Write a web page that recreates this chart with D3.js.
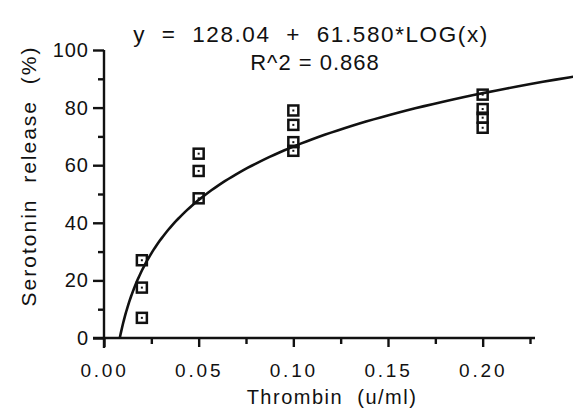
<!DOCTYPE html>
<html>
<head>
<meta charset="utf-8">
<script src="https://cdn.jsdelivr.net/npm/d3@7"></script>
<style>
    body { margin: 0; background: #fff; }
    text { font-family: "Liberation Sans", Arial, sans-serif; fill: #111; }
</style>
</head>
<body>
<script>
    // Data
    const doses = [0.02, 0.05, 0.10, 0.20];
    const releases = [
        [27, 17.5, 7],
        [64, 58, 48.5],
        [79, 74, 68, 65],
        [84.5, 79.5, 76.5, 73]
    ];
    // fit printed on the chart: y = a + b*LOG(x)
    const fitA = 128.04;
    const fitB = 61.580;
    const fitLabel = "y  =  128.04  +  61.580*LOG(x)";
    const r2Label = "R^2 = 0.868";
    const xMajor = [0, 0.05, 0.10, 0.15, 0.20];
    const xMinor = [0.025, 0.075, 0.125, 0.175, 0.225];
    const yMajor = [0, 20, 40, 60, 80, 100];
    const yMinor = [10, 30, 50, 70, 90];

    const width = 573;
    const height = 410;
    const ink = "#111";

    const svg = d3.select("body").append("svg")
        .attr("width", width)
        .attr("height", height);

    const xScale = d3.scaleLinear().domain([0, 0.225]).range([104, 530]);
    const yScale = d3.scaleLinear().domain([0, 100]).range([338, 50]);

    // x axis
    const gx = svg.append("g")
        .attr("transform", `translate(0,${yScale(0)})`)
        .call(d3.axisBottom(xScale).tickValues(xMajor).tickSize(9).tickSizeOuter(0)
            .tickFormat(d3.format(".2f")));
    gx.append("g")
        .call(d3.axisBottom(xScale).tickValues(xMinor).tickSize(6).tickSizeOuter(0)
            .tickFormat(""));
    gx.selectAll(".domain").remove();
    gx.append("line")
        .attr("x1", 93).attr("x2", 535)
        .attr("stroke", ink).attr("stroke-width", 2.4);
    gx.selectAll("line").attr("stroke", ink).attr("stroke-width", 2.4);
    gx.selectAll("text")
        .attr("y", 26)
        .attr("font-size", 19)
        .attr("letter-spacing", 2.8)
        .attr("fill", ink);

    // y axis
    const gy = svg.append("g")
        .attr("transform", `translate(${xScale(0)},0)`)
        .call(d3.axisLeft(yScale).tickValues(yMajor).tickSize(11).tickSizeOuter(0));
    gy.append("g")
        .call(d3.axisLeft(yScale).tickValues(yMinor).tickSize(6).tickSizeOuter(0)
            .tickFormat(""));
    gy.selectAll(".domain").remove();
    gy.append("line")
        .attr("y1", yScale(100)).attr("y2", yScale(0) + 10)
        .attr("stroke", ink).attr("stroke-width", 2.4);
    gy.selectAll("line").attr("stroke", ink).attr("stroke-width", 2.4);
    gy.selectAll("text")
        .attr("x", -15)
        .attr("font-size", 20)
        .attr("letter-spacing", 1)
        .attr("fill", ink);

    // fitted curve from the printed equation
    const x0 = Math.pow(10, -fitA / fitB);
    const curveX = d3.range(0, 121).map(i => x0 * Math.pow(0.26 / x0, i / 120));
    svg.append("path")
        .datum(curveX)
        .attr("fill", "none")
        .attr("stroke", ink)
        .attr("stroke-width", 2.6)
        .attr("d", d3.line()
            .x(d => xScale(d))
            .y(d => yScale(fitA + fitB * Math.log10(d)))
        );

    // markers: square with a dot
    const points = doses.flatMap((d, i) => releases[i].map(v => ({dose: d, value: v})));
    const marks = svg.append("g").selectAll("g")
        .data(points)
        .join("g")
        .attr("transform", d => `translate(${xScale(d.dose)},${yScale(d.value)})`);
    marks.append("rect")
        .attr("x", -5).attr("y", -5)
        .attr("width", 10).attr("height", 10)
        .attr("fill", "none")
        .attr("stroke", ink)
        .attr("stroke-width", 2.5);
    marks.append("rect")
        .attr("x", -1).attr("y", -1)
        .attr("width", 2).attr("height", 2)
        .attr("fill", ink);

    // texts
    svg.append("text")
        .attr("x", 311).attr("y", 42)
        .attr("text-anchor", "middle")
        .attr("font-size", 22.5)
        .attr("letter-spacing", 1.6)
        .style("white-space", "pre")
        .text(fitLabel);
    svg.append("text")
        .attr("x", 315).attr("y", 70)
        .attr("text-anchor", "middle")
        .attr("font-size", 22)
        .attr("letter-spacing", 1)
        .text(r2Label);
    svg.append("text")
        .attr("x", 332).attr("y", 404)
        .attr("text-anchor", "middle")
        .attr("font-size", 20)
        .attr("letter-spacing", 1.5)
        .style("white-space", "pre")
        .text("Thrombin  (u/ml)");
    svg.append("text")
        .attr("transform", "translate(36,176) rotate(-90)")
        .attr("text-anchor", "middle")
        .attr("font-size", 21)
        .attr("letter-spacing", 2)
        .style("white-space", "pre")
        .text("Serotonin  release  (%)");
</script>
</body>
</html>
